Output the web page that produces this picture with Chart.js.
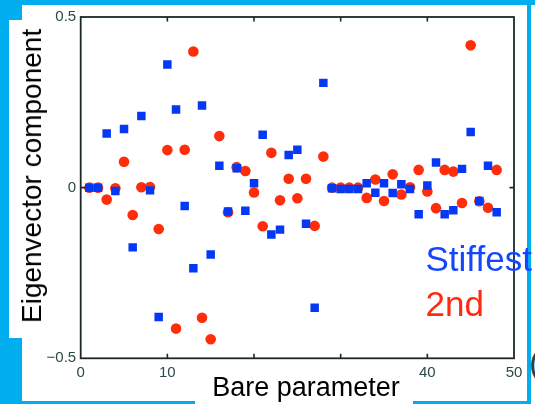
<!DOCTYPE html>
<html>
<head>
<meta charset="utf-8">
<script src="https://cdn.jsdelivr.net/npm/chart.js@4"></script>
<style>
  html, body { margin: 0; padding: 0; background: #fff; }
  #stage { position: relative; width: 535px; height: 404px; overflow: hidden; background: #fff;
           font-family: "Liberation Sans", Arial, Helvetica, sans-serif; }
  .band { position: absolute; background: #00adef; }
  #c { position: absolute; left: 0; top: 0; }
  .lbl { position: absolute; white-space: nowrap; line-height: 1; }
  #ytitle { left: 0; top: 0; font-size: 28px; color: #000;
            transform: translate(32px, 176px) rotate(-90deg) translate(-50%, -50%); transform-origin: 0 0; }
  #xtitle { left: 306px; top: 373.6px; font-size: 27px; color: #000; transform: translateX(-50%); }
  #k1 { left: 425.5px; top: 241.4px; font-size: 35px; color: #1446ff; }
  #k2 { left: 425.5px; top: 285.9px; font-size: 35px; color: #ff2a12; }
  #paren { left: 529px; top: 345px; font-size: 34px; color: #3a3a3a; }
</style>
</head>
<body>
<div id="stage">
  <div class="band" style="left:0;top:0;width:535px;height:5px"></div>
  <div class="band" style="left:0;top:5px;width:22px;height:15px"></div>
  <div class="band" style="left:0;top:20px;width:9px;height:318px"></div>
  <div class="band" style="left:0;top:338px;width:22px;height:63px"></div>
  <div class="band" style="left:0;top:401px;width:195px;height:3px"></div>
  <div class="band" style="left:413px;top:401px;width:118px;height:3px"></div>
  <div class="band" style="left:527px;top:5px;width:4px;height:399px"></div>
  <div class="lbl" id="paren">(</div>
  <canvas id="c" width="535" height="404"></canvas>
  <div class="lbl" id="ytitle">Eigenvector component</div>
  <div class="lbl" id="xtitle">Bare parameter</div>
  <div class="lbl" id="k1">Stiffest</div>
  <div class="lbl" id="k2">2nd</div>
</div>
<script>
// Bare parameter index
const params = [
   1,  2,  3,  4,  5,  6,  7,  8,  9, 10, 11, 12, 13, 14, 15, 16,
  17, 18, 19, 20, 21, 22, 23, 24, 25, 26, 27, 28, 29, 30, 31, 32,
  33, 34, 35, 36, 37, 38, 39, 40, 41, 42, 43, 44, 45, 46, 47, 48
];

// Stiffest eigenvector components
const stiffest = [
   0.000,  0.000,  0.159, -0.010,  0.172, -0.175,  0.210, -0.008,
  -0.379,  0.361,  0.229, -0.054, -0.236,  0.241, -0.196,  0.064,
  -0.070,  0.057, -0.068,  0.013,  0.155, -0.137, -0.123,  0.096,
   0.111, -0.106, -0.352,  0.307, -0.002, -0.004, -0.004, -0.004,
   0.013, -0.015,  0.013, -0.016,  0.010, -0.004, -0.078,  0.006,
   0.074, -0.078, -0.066,  0.055,  0.163, -0.039,  0.064, -0.072
];

// Second stiffest eigenvector components
const second = [
   0.000,  0.000, -0.035, -0.002,  0.076, -0.080,  0.001,  0.002,
  -0.121,  0.110, -0.413,  0.111,  0.399, -0.381, -0.444,  0.151,
  -0.072,  0.060,  0.049, -0.014, -0.113,  0.102, -0.037,  0.026,
  -0.031,  0.026, -0.112,  0.091,  0.000,  0.000,  0.000,  0.000,
  -0.030,  0.024, -0.039,  0.039, -0.020,  0.001,  0.052, -0.011,
  -0.060,  0.052,  0.047, -0.045,  0.417, -0.040, -0.059,  0.052
];

const xTickValues = [0, 10, 20, 30, 40, 50];
const xTickLabels = ['0', '10', '20', '30', '40', '50'];
const yTickValues = [-0.5, 0, 0.5];
const yTickLabels = ['\u22120.5', '0', '0.5'];

const AXIS_COLOR = '#1c2828';
const TICK_COLOR = '#2d4848';

// Box frame with inward tick marks on all four sides
const framePlugin = {
  id: 'frame',
  afterDraw(chart) {
    const { ctx, chartArea: a, scales: { x, y } } = chart;
    const len = 4.5;
    ctx.save();
    ctx.strokeStyle = AXIS_COLOR;
    ctx.lineWidth = 1.8;
    ctx.strokeRect(a.left, a.top, a.right - a.left, a.bottom - a.top);
    ctx.lineWidth = 1.6;
    ctx.beginPath();
    xTickValues.forEach(v => {
      const px = x.getPixelForValue(v);
      if (px <= a.left + 1 || px >= a.right - 1) return;
      ctx.moveTo(px, a.bottom); ctx.lineTo(px, a.bottom - len);
      ctx.moveTo(px, a.top);    ctx.lineTo(px, a.top + len);
    });
    yTickValues.forEach(v => {
      const py = y.getPixelForValue(v);
      if (py <= a.top + 1 || py >= a.bottom - 1) return;
      ctx.moveTo(a.left, py);  ctx.lineTo(a.left + len, py);
      ctx.moveTo(a.right, py); ctx.lineTo(a.right - len, py);
    });
    ctx.stroke();
    ctx.restore();
  }
};

new Chart(document.getElementById('c'), {
  type: 'scatter',
  data: {
    datasets: [
      {
        label: 'Stiffest',
        data: params.map((p, i) => ({ x: p, y: stiffest[i] })),
        pointStyle: 'rect',
        pointRadius: 6,
        pointHoverRadius: 6,
        backgroundColor: '#0538f5',
        borderWidth: 0,
        order: 0
      },
      {
        label: '2nd',
        data: params.map((p, i) => ({ x: p, y: second[i] })),
        pointStyle: 'circle',
        pointRadius: 5.3,
        pointHoverRadius: 5.3,
        backgroundColor: '#ff2d0a',
        borderWidth: 0,
        order: 1
      }
    ]
  },
  options: {
    responsive: false,
    animation: false,
    devicePixelRatio: 1,
    layout: { padding: { top: 17, right: 21, bottom: 0, left: 0 } },
    plugins: { legend: { display: false }, tooltip: { enabled: false } },
    scales: {
      x: {
        type: 'linear',
        min: 0, max: 50,
        afterBuildTicks: s => { s.ticks = xTickValues.map(v => ({ value: v })); },
        afterFit: s => { s.height = 45.7; },
        grid: { display: false, drawTicks: false },
        border: { display: false },
        ticks: {
          color: TICK_COLOR,
          font: { family: '"Liberation Sans", Arial, sans-serif', size: 15 },
          padding: 6,
          maxRotation: 0,
          // 20 and 30 sit under the axis title, so they are left blank
          callback: v => (v === 20 || v === 30) ? '' : xTickLabels[xTickValues.indexOf(v)]
        }
      },
      y: {
        type: 'linear',
        min: -0.5, max: 0.5,
        afterBuildTicks: s => { s.ticks = yTickValues.map(v => ({ value: v })); },
        afterFit: s => { s.width = 80.7; },
        grid: { display: false, drawTicks: false },
        border: { display: false },
        ticks: {
          color: TICK_COLOR,
          font: { family: '"Liberation Sans", Arial, sans-serif', size: 15 },
          padding: 4.5,
          callback: v => yTickLabels[yTickValues.indexOf(v)]
        }
      }
    }
  },
  plugins: [framePlugin]
});
</script>
</body>
</html>
